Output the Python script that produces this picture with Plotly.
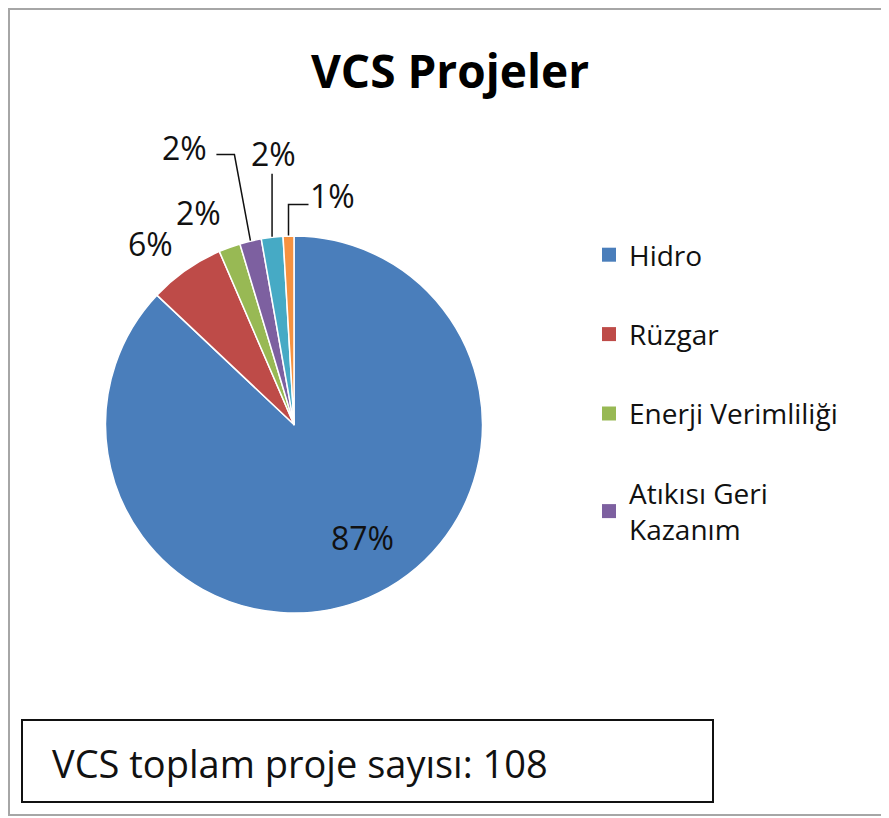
import math
import plotly.graph_objects as go

# ---- data ----
categories = ["Hidro", "Rüzgar", "Enerji Verimliliği", "Atıkısı Geri Kazanım", "Biyokütle", "Jeotermal"]
project_counts = [94, 7, 2, 2, 2, 1]
legend_labels = ["Hidro", "Rüzgar", "Enerji Verimliliği", "Atıkısı Geri<br>Kazanım"]
title_text = "VCS Projeler"
total_text = "VCS toplam proje sayısı: "

# ---- style / layout ----
colors = ["#4A7EBB", "#BE4B48", "#98B954", "#7D60A0", "#46AAC5", "#F69240"]
W, H = 881, 810          # page body adds an 8px margin
FONT = "'Open Sans', sans-serif"
TXT = "#111111"


def px(x):
    return x / W


def py(y):  # y measured from the top, in pixels
    return 1 - y / H


pie_x = [px(97), px(475)]
pie_y = [py(605), py(228)]

fig = go.Figure()
fig.add_trace(go.Pie(
    labels=categories, values=project_counts, sort=False, direction="clockwise",
    rotation=0, textinfo="none", showlegend=False, hoverinfo="label+percent",
    marker=dict(colors=colors, line=dict(color="white", width=1.5)),
    domain=dict(x=pie_x, y=pie_y),
))

# legend entries (only the first four appear in the original legend)
for name, col in zip(legend_labels, colors):
    fig.add_trace(go.Scatter(
        x=[None], y=[None], mode="markers", name=name, legendgroup=name,
        marker=dict(symbol="square", size=14, color=col),
    ))

# label positions derived from the data (slice mid-angles)
total = sum(project_counts)
cx = 286.0
cy = 416.5
r = 189.0

# per-label: (radius fraction, label offset dx, dy in px, leader-line offsets)
label_layout = [
    (0.7, (16, -8), None),
    (1.0, (-35, -26), None),
    (1.0, (-31, -34), None),
    (1.0, (-66, -93), [(0, 0), (-16, -86), (-34, -86)]),
    (1.0, (1, -83), [(0, 0), (0, -63)]),
    (1.0, (44, -40), [(0, 0), (0, -31), (20, -31)]),
]

annotations = []
shapes = []
cum = 0
for v, (rf, (dx, dy), path) in zip(project_counts, label_layout):
    mid = (cum + v / 2) / total
    cum += v
    ang = 2 * math.pi * mid            # clockwise from 12 o'clock
    pct = f"{round(100 * v / total)}%"
    ex = cx + rf * r * math.sin(ang)
    ey = cy - rf * r * math.cos(ang)
    annotations.append(dict(x=px(ex + dx), y=py(ey + dy), xref="paper", yref="paper",
                            xanchor="center", yanchor="middle",
                            text=pct, showarrow=False,
                            font=dict(size=32, color=TXT, family=FONT)))
    if path:
        d = " ".join(("M" if i == 0 else "L") + f" {px(ex + ox):.5f},{py(ey + oy):.5f}"
                     for i, (ox, oy) in enumerate(path))
        shapes.append(dict(type="path", xref="paper", yref="paper", path=d,
                           line=dict(color="#111", width=1.5)))

annotations.append(dict(x=px(42), y=py(755), xref="paper", yref="paper",
                        xanchor="left", yanchor="middle", showarrow=False,
                        text=f"{total_text}{total}",
                        font=dict(size=38, color=TXT, family=FONT)))

shapes += [
    dict(type="rect", xref="paper", yref="paper", x0=px(1), x1=px(878),
         y0=py(807), y1=py(1), line=dict(color="#A6A6A6", width=2)),
    dict(type="rect", xref="paper", yref="paper", x0=px(14), x1=px(705),
         y0=py(794), y1=py(712), line=dict(color="#111", width=2)),
]

fig.update_layout(
    width=W, height=H, margin=dict(l=0, r=0, t=0, b=0),
    paper_bgcolor="white", plot_bgcolor="white",
    title=dict(text=f"<b>{title_text}</b>", x=px(442), xanchor="center",
               y=py(64), yanchor="middle",
               font=dict(size=46, color="#000", family=FONT)),
    xaxis=dict(visible=False), yaxis=dict(visible=False),
    legend=dict(x=px(581), y=py(222), xanchor="left", yanchor="top",
                tracegroupgap=40, font=dict(size=28, color=TXT, family=FONT),
                bgcolor="rgba(0,0,0,0)", itemclick=False),
    annotations=annotations, shapes=shapes,
)

fig.write_html("out.html")
